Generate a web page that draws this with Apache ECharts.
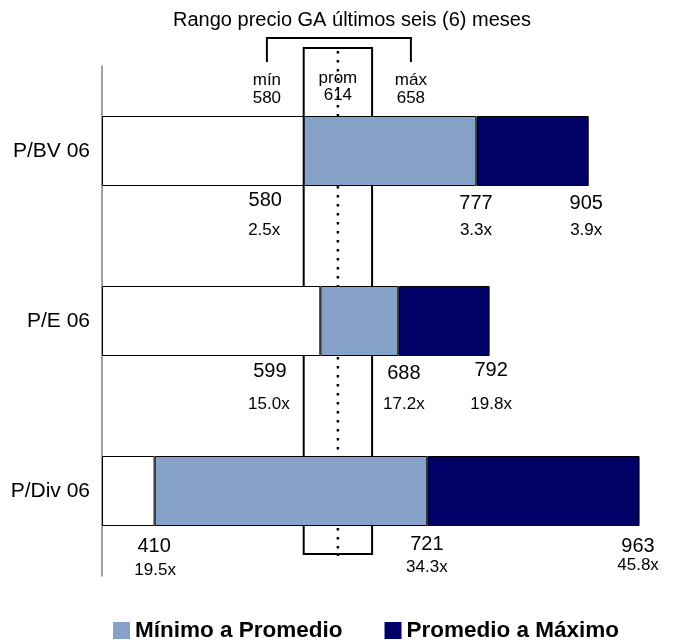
<!DOCTYPE html>
<html><head><meta charset="utf-8">
<script src="https://cdn.jsdelivr.net/npm/echarts@6/dist/echarts.min.js"></script>
<style>html,body{margin:0;padding:0;background:#fff}#c{width:674px;height:642px}</style>
</head><body><div id="c"></div>
<script>
// ---- data ----
const categories = ['P/BV 06', 'P/E 06', 'P/Div 06'];
const minVals = [580, 599, 410];
const avgVals = [777, 688, 721];
const maxVals = [905, 792, 963];
const minMult = ['2.5x', '15.0x', '19.5x'];
const avgMult = ['3.3x', '17.2x', '34.3x'];
const maxMult = ['3.9x', '19.8x', '45.8x'];
const rangeLabels = ['mín', 'prom', 'máx'];
const rangeVals = [580, 614, 658];
const seriesNames = ['Mínimo a Promedio', 'Promedio a Máximo'];
const titleText = 'Rango precio GA últimos seis (6) meses';
const axisMin = 350, axisMax = 1000;

// ---- layout (label nudges: [valueDx, valueDy, multDx, multDy]) ----
const FONT = '"Liberation Sans", Arial, sans-serif';
const nudges = {
  min: [[-38, 50, -39, 80], [-50, 51, -51, 84], [0, 56, 1, 80]],
  avg: [[0, 53, 0, 80], [6, 53, 6, 84], [0, 54, 0, 77]],
  max: [[-2, 53, -2, 80], [2, 50, 2, 84], [-1, 56, -1, 75]]
};

const valueData = [], multData = [];
const groups = [['min', minVals, minMult], ['avg', avgVals, avgMult], ['max', maxVals, maxMult]];
groups.forEach(([k, vals, mults]) => {
  vals.forEach((v, i) => {
    const n = nudges[k][i];
    valueData.push({ value: [v, categories[i]], label: { formatter: String(v), offset: [n[0], n[1]] } });
    multData.push({ value: [v, categories[i]], label: { formatter: mults[i], offset: [n[2], n[3]] } });
  });
});

const labelBase = {
  show: true, position: [0, 0], align: 'center', verticalAlign: 'middle',
  color: '#000', textBorderWidth: 0, fontFamily: FONT
};
const hiddenItem = { color: 'rgba(0,0,0,0)', opacity: 1 };

const chart = echarts.init(document.getElementById('c'), null, { renderer: 'canvas' });
const border = { borderColor: '#000', borderWidth: 1 };
chart.setOption({
  animation: false,
  backgroundColor: '#fff',
  textStyle: { fontFamily: FONT },
  grid: { left: 102, right: 2, top: 66, bottom: 66, containLabel: false, outerBoundsMode: 'none' },
  xAxis: { type: 'value', min: axisMin, max: axisMax, show: false },
  yAxis: {
    type: 'category', data: categories, inverse: true,
    axisLine: { show: true, lineStyle: { color: '#808080', width: 1.5 } },
    axisTick: { show: false }, splitLine: { show: false },
    axisLabel: { fontSize: 21, color: '#000', margin: 12, fontFamily: FONT }
  },
  legend: {
    data: seriesNames, left: 108, top: 614, icon: 'rect',
    itemWidth: 17, itemHeight: 17, itemGap: 42,
    itemStyle: { borderWidth: 0 },
    textStyle: { fontSize: 22.5, fontWeight: 'bold', color: '#000', fontFamily: FONT }
  },
  series: [
    { type: 'bar', name: 'offset', stack: 'r', barWidth: 70, silent: true,
      itemStyle: { color: 'rgba(0,0,0,0)' }, data: minVals.map(() => axisMin) },
    { type: 'bar', name: 'base', stack: 'r', barWidth: 70, silent: true,
      itemStyle: Object.assign({ color: '#fff' }, border), data: minVals.map(v => v - axisMin) },
    { type: 'bar', name: seriesNames[0], stack: 'r', barWidth: 70,
      itemStyle: Object.assign({ color: '#87A2C8' }, border), data: avgVals.map((v, i) => v - minVals[i]) },
    { type: 'bar', name: seriesNames[1], stack: 'r', barWidth: 70,
      itemStyle: Object.assign({ color: '#000066' }, border), data: maxVals.map((v, i) => v - avgVals[i]) },
    { type: 'scatter', name: 'vals', symbolSize: 1, itemStyle: hiddenItem, silent: true, z: 5,
      label: Object.assign({ fontSize: 20 }, labelBase), data: valueData },
    { type: 'scatter', name: 'mults', symbolSize: 1, itemStyle: hiddenItem, silent: true, z: 5,
      label: Object.assign({ fontSize: 17 }, labelBase), data: multData }
  ]
});

// ---- price range box, bracket and labels ----
const px = v => chart.convertToPixel({ xAxisIndex: 0 }, v);
const xL = px(rangeVals[0]), xR = px(rangeVals[2]);
const xM = (xL + xR) / 2;
const lx = [xM - 71, xM, xM + 73];
const boxTop = 48, boxBottom = 554;
const elements = [
  { type: 'rect', z: 0, shape: { x: xL, y: boxTop, width: xR - xL, height: boxBottom - boxTop },
    style: { fill: 'none', stroke: '#000', lineWidth: 2 } },
  { type: 'line', z: 0, shape: { x1: xM, y1: boxTop + 3, x2: xM, y2: boxBottom + 2 },
    style: { stroke: '#000', lineWidth: 2.5, lineDash: [2.5, 6.5] } },
  { type: 'polyline', z: 0, shape: { points: [[lx[0], 62], [lx[0], 38], [lx[2], 38], [lx[2], 62]] },
    style: { fill: 'none', stroke: '#000', lineWidth: 2 } },
  { type: 'text', z: 10, x: 352, y: 20,
    style: { text: titleText, font: '20px ' + FONT, fill: '#000', align: 'center', verticalAlign: 'middle' } }
];
const topY = [[80, 98], [78, 95], [80, 98]];
rangeLabels.forEach((t, i) => {
  elements.push({ type: 'text', z: 10, x: lx[i], y: topY[i][0],
    style: { text: t, font: '17px ' + FONT, fill: '#000', align: 'center', verticalAlign: 'middle' } });
  elements.push({ type: 'text', z: 10, x: lx[i], y: topY[i][1],
    style: { text: String(rangeVals[i]), font: '17px ' + FONT, fill: '#000', align: 'center', verticalAlign: 'middle' } });
});
chart.setOption({ graphic: { elements: elements } });
</script>
</body></html>
